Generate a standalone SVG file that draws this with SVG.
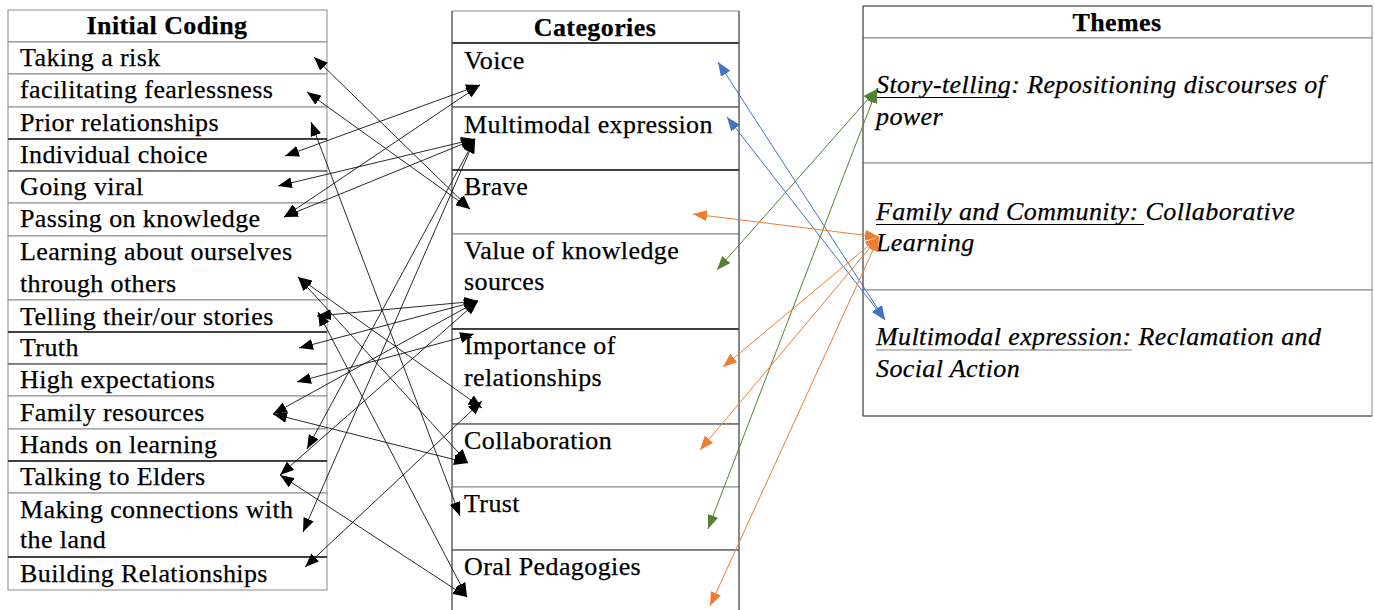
<svg xmlns="http://www.w3.org/2000/svg" width="1375" height="610" viewBox="0 0 1375 610">
<style>
.bg{fill:#ffffff}
.cell{fill:#ffffff;stroke:#8a8a8a;stroke-width:1}
.rule{stroke:#1a1a1a;stroke-width:1.4}
.rule2{stroke:#555;stroke-width:1.1}
.t{font-family:"Liberation Serif","Times New Roman",serif;font-size:26px;letter-spacing:0.4px;fill:#000;stroke:#000;stroke-width:0.25}
.h{font-weight:bold;text-anchor:middle}
.it{font-style:italic}
.ul{stroke:#000;stroke-width:1.2}
.ulg{stroke:#aaa;stroke-width:1.4}
.cb{stroke:#111;stroke-width:0.9;fill:none;marker-start:url(#ak);marker-end:url(#ak)}
.cbl{stroke:#4472C4;stroke-width:1;fill:none;marker-start:url(#ab);marker-end:url(#ab)}
.cg{stroke:#548235;stroke-width:1;fill:none;marker-start:url(#ag);marker-end:url(#ag)}
.co{stroke:#ED7D31;stroke-width:1;fill:none;marker-start:url(#ao);marker-end:url(#ao)}
</style>
<defs>
<marker id="ak" viewBox="0 0 14 11" refX="14" refY="5.5" markerWidth="14" markerHeight="11" markerUnits="userSpaceOnUse" orient="auto-start-reverse"><path d="M0,0 L14,5.5 L0,11 z" fill="#000"/></marker>
<marker id="ab" viewBox="0 0 14 11" refX="14" refY="5.5" markerWidth="14" markerHeight="11" markerUnits="userSpaceOnUse" orient="auto-start-reverse"><path d="M0,0 L14,5.5 L0,11 z" fill="#4472C4"/></marker>
<marker id="ag" viewBox="0 0 14 11" refX="14" refY="5.5" markerWidth="14" markerHeight="11" markerUnits="userSpaceOnUse" orient="auto-start-reverse"><path d="M0,0 L14,5.5 L0,11 z" fill="#548235"/></marker>
<marker id="ao" viewBox="0 0 14 11" refX="14" refY="5.5" markerWidth="14" markerHeight="11" markerUnits="userSpaceOnUse" orient="auto-start-reverse"><path d="M0,0 L14,5.5 L0,11 z" fill="#ED7D31"/></marker>
</defs>
<rect class="bg" x="0" y="0" width="1375" height="610"/>

<!-- Initial Coding table -->
<g id="initial-coding-header"><rect class="cell" x="8" y="10" width="319" height="32"/><text class="t h" x="167" y="34">Initial Coding</text></g>
<g id="ic-taking-risk"><rect class="cell" x="8" y="42" width="319" height="32"/><text class="t" x="20" y="66">Taking a risk</text></g>
<g id="ic-fearlessness"><rect class="cell" x="8" y="74" width="319" height="33"/><text class="t" x="20" y="98">facilitating fearlessness</text></g>
<g id="ic-prior-relationships"><rect class="cell" x="8" y="107" width="319" height="32"/><text class="t" x="20" y="131">Prior relationships</text></g>
<g id="ic-individual-choice"><rect class="cell" x="8" y="139" width="319" height="32"/><text class="t" x="20" y="163">Individual choice</text></g>
<g id="ic-going-viral"><rect class="cell" x="8" y="171" width="319" height="32"/><text class="t" x="20" y="195">Going viral</text></g>
<g id="ic-passing-knowledge"><rect class="cell" x="8" y="203" width="319" height="33"/><text class="t" x="20" y="227">Passing on knowledge</text></g>
<g id="ic-learning-ourselves"><rect class="cell" x="8" y="236" width="319" height="64"/><text class="t" x="20" y="260">Learning about ourselves</text><text class="t" x="20" y="292">through others</text></g>
<g id="ic-telling-stories"><rect class="cell" x="8" y="300" width="319" height="32"/><text class="t" x="20" y="325">Telling their/our stories</text></g>
<g id="ic-truth"><rect class="cell" x="8" y="332" width="319" height="32"/><text class="t" x="20" y="356">Truth</text></g>
<g id="ic-high-expectations"><rect class="cell" x="8" y="364" width="319" height="32"/><text class="t" x="20" y="388">High expectations</text></g>
<g id="ic-family-resources"><rect class="cell" x="8" y="396" width="319" height="33"/><text class="t" x="20" y="421">Family resources</text></g>
<g id="ic-hands-on"><rect class="cell" x="8" y="429" width="319" height="32"/><text class="t" x="20" y="453">Hands on learning</text></g>
<g id="ic-talking-elders"><rect class="cell" x="8" y="461" width="319" height="32"/><text class="t" x="20" y="485">Talking to Elders</text></g>
<g id="ic-connections-land"><rect class="cell" x="8" y="493" width="319" height="64"/><text class="t" x="20" y="518">Making connections with</text><text class="t" x="20" y="548">the land</text></g>
<g id="ic-building-relationships"><rect class="cell" x="8" y="557" width="319" height="33"/><text class="t" x="20" y="582">Building Relationships</text></g>

<!-- Categories table -->
<g id="categories-header"><rect class="cell" x="452" y="11" width="287" height="32"/><text class="t h" x="595" y="36">Categories</text></g>
<g id="cat-voice"><rect class="cell" x="452" y="43" width="287" height="64"/><text class="t" x="464" y="69">Voice</text></g>
<g id="cat-multimodal"><rect class="cell" x="452" y="107" width="287" height="63"/><text class="t" x="464" y="133">Multimodal expression</text></g>
<g id="cat-brave"><rect class="cell" x="452" y="170" width="287" height="64"/><text class="t" x="464" y="195">Brave</text></g>
<g id="cat-value-knowledge"><rect class="cell" x="452" y="234" width="287" height="95"/><text class="t" x="464" y="259">Value of knowledge</text><text class="t" x="464" y="290">sources</text></g>
<g id="cat-importance-relationships"><rect class="cell" x="452" y="329" width="287" height="95"/><text class="t" x="464" y="354">Importance of</text><text class="t" x="464" y="386">relationships</text></g>
<g id="cat-collaboration"><rect class="cell" x="452" y="424" width="287" height="63"/><text class="t" x="464" y="449">Collaboration</text></g>
<g id="cat-trust"><rect class="cell" x="452" y="487" width="287" height="63"/><text class="t" x="464" y="512">Trust</text></g>
<g id="cat-oral-pedagogies"><rect class="cell" x="452" y="550" width="287" height="70"/><text class="t" x="464" y="575">Oral Pedagogies</text></g>

<!-- Themes table -->
<g id="themes-header"><rect class="cell" x="863" y="6" width="509" height="32"/><text class="t h" x="1117" y="31">Themes</text></g>
<g id="theme-story-telling"><rect class="cell" x="863" y="38" width="509" height="125"/><text class="t it" x="876" y="93">Story-telling: Repositioning discourses of</text><text class="t it" x="876" y="125">power</text><line class="ul" x1="876" y1="97.5" x2="1009" y2="97.5"/></g>
<g id="theme-family-community"><rect class="cell" x="863" y="163" width="509" height="127"/><text class="t it" x="876" y="220">Family and Community: Collaborative</text><text class="t it" x="876" y="251">Learning</text><line class="ul" x1="876" y1="224.5" x2="1144" y2="224.5"/></g>
<g id="theme-multimodal"><rect class="cell" x="863" y="290" width="509" height="126"/><text class="t it" x="876" y="345">Multimodal expression: Reclamation and</text><text class="t it" x="876" y="377">Social Action</text><line class="ulg" x1="876" y1="350" x2="1132" y2="350"/></g>

<!-- darker table rules -->
<g id="table-rules">
<line class="rule" x1="8" y1="139" x2="327" y2="139"/>
<line class="rule2" x1="8" y1="171" x2="327" y2="171"/>
<line class="rule" x1="8" y1="332" x2="327" y2="332"/>
<line class="rule2" x1="8" y1="364" x2="327" y2="364"/>
<line class="rule" x1="8" y1="461" x2="327" y2="461"/>
<line class="rule" x1="8" y1="557" x2="327" y2="557"/>
<line class="rule" x1="452" y1="43" x2="739" y2="43"/>
<line class="rule2" x1="452" y1="107" x2="739" y2="107"/>
<line class="rule" x1="452" y1="170" x2="739" y2="170"/>
<line class="rule" x1="452" y1="329" x2="739" y2="329"/>
<line class="rule2" x1="452" y1="424" x2="739" y2="424"/>
<line class="rule2" x1="452" y1="550" x2="739" y2="550"/>
<line class="rule2" x1="452" y1="11" x2="452" y2="610"/>
<line class="rule2" x1="739" y1="11" x2="739" y2="610"/>
<line class="rule2" x1="863" y1="6" x2="1372" y2="6"/>
<line class="rule2" x1="863" y1="6" x2="863" y2="416"/>
<line class="rule2" x1="863" y1="416" x2="1372" y2="416"/>
</g>

<!-- connectors -->
<g id="connectors">
<line class="cb" x1="314" y1="57" x2="470" y2="209"/>
<line class="cb" x1="307" y1="92" x2="470" y2="209"/>
<line class="cb" x1="311" y1="122" x2="460" y2="516"/>
<line class="cb" x1="285" y1="156" x2="480" y2="85"/>
<line class="cb" x1="284" y1="217" x2="480" y2="85"/>
<line class="cb" x1="278" y1="186" x2="475" y2="139"/>
<line class="cb" x1="284" y1="217" x2="475" y2="139"/>
<line class="cb" x1="298" y1="277" x2="482" y2="408"/>
<line class="cb" x1="298" y1="277" x2="468" y2="463"/>
<line class="cb" x1="317" y1="316" x2="478" y2="301"/>
<line class="cb" x1="318" y1="312" x2="467" y2="597"/>
<line class="cb" x1="299" y1="348" x2="478" y2="301"/>
<line class="cb" x1="297" y1="382" x2="474" y2="334"/>
<line class="cb" x1="273" y1="414" x2="478" y2="301"/>
<line class="cb" x1="273" y1="414" x2="468" y2="463"/>
<line class="cb" x1="307" y1="449" x2="475" y2="139"/>
<line class="cb" x1="280" y1="475" x2="478" y2="301"/>
<line class="cb" x1="280" y1="475" x2="467" y2="597"/>
<line class="cb" x1="303" y1="532" x2="475" y2="139"/>
<line class="cb" x1="305" y1="567" x2="482" y2="401"/>
<line class="cbl" x1="718" y1="62" x2="885" y2="320"/>
<line class="cbl" x1="727" y1="117" x2="885" y2="320"/>
<line class="cg" x1="877" y1="89" x2="717" y2="270"/>
<line class="cg" x1="877" y1="89" x2="708" y2="529"/>
<line class="co" x1="879" y1="237" x2="693" y2="214"/>
<line class="co" x1="879" y1="237" x2="723" y2="367"/>
<line class="co" x1="879" y1="237" x2="700" y2="450"/>
<line class="co" x1="879" y1="237" x2="710" y2="606"/>
</g>
</svg>
